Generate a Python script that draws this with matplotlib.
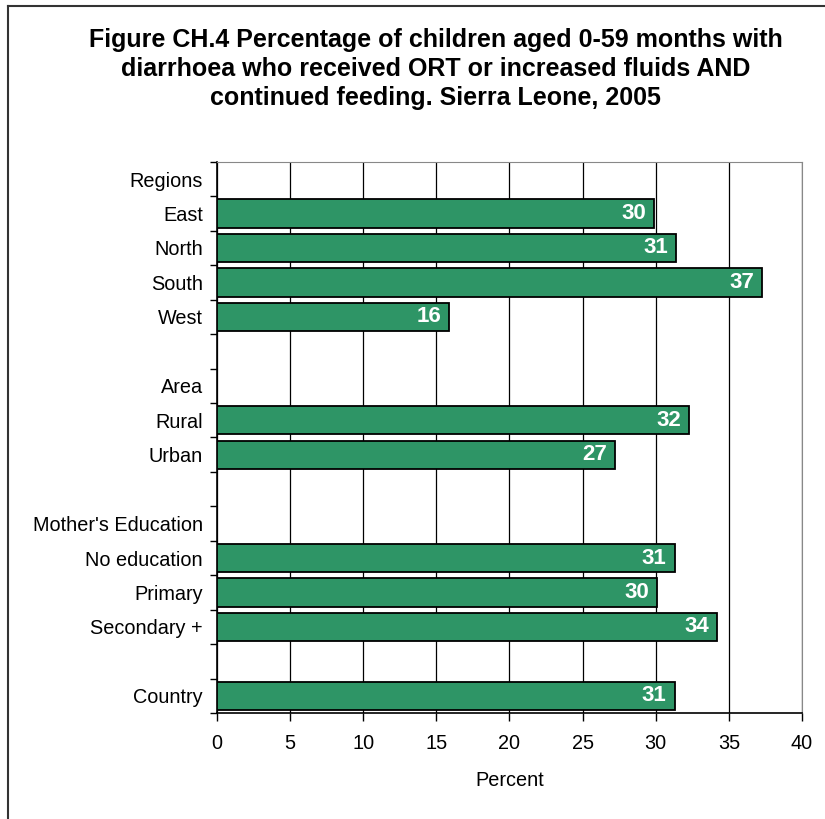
import matplotlib.pyplot as plt
import numpy as np

plt.rcParams['font.family'] = ['Liberation Sans', 'DejaVu Sans']

# rows from top to bottom; headers and spacer rows carry no bar
labels = ['Regions', 'East', 'North', 'South', 'West', '',
          'Area', 'Rural', 'Urban', '',
          "Mother's Education", 'No education', 'Primary', 'Secondary +', '',
          'Country']
values = [None, 29.9, 31.4, 37.3, 15.9, None,
          None, 32.3, 27.2, None,
          None, 31.3, 30.1, 34.2, None,
          31.3]

green = '#2e9566'

fig = plt.figure(figsize=(8.25, 8.19), dpi=100)
ax = fig.add_axes([0.263, 0.1294, 0.709, 0.673])

n = len(labels)
ypos = np.arange(n)

for y, v in zip(ypos, values):
    if v is None:
        continue
    ax.barh(y, v, height=0.82, color=green, edgecolor='black', linewidth=1.3, zorder=3)
    ax.text(v - 0.55, y, f'{v:.0f}', ha='right', va='center', color='white',
            fontsize=16, fontweight='bold', zorder=4)

ax.set_xlim(0, 40)
ax.set_ylim(n - 0.5, -0.5)
ax.set_xticks(np.arange(0, 41, 5))
ax.tick_params(axis='x', labelsize=14.3, length=6, width=1, pad=9)

# labels sit at row centres, tick marks at row boundaries
ax.set_yticks(ypos)
ax.set_yticklabels(labels, fontsize=14.3)
ax.tick_params(axis='y', which='major', length=0, pad=10)
ax.set_yticks(np.arange(n + 1) - 0.5, minor=True)
ax.tick_params(axis='y', which='minor', length=5, width=1)

ax.xaxis.grid(True, color='black', linewidth=0.9, zorder=0)
ax.set_axisbelow(True)
for side in ['top', 'right']:
    ax.spines[side].set_color('#888888')
ax.spines['left'].set_linewidth(1.2)
ax.spines['bottom'].set_linewidth(1.2)

ax.set_xlabel('Percent', fontsize=14.3, labelpad=13)

fig.text(0.528, 0.966,
         'Figure CH.4 Percentage of children aged 0-59 months with\n'
         'diarrhoea who received ORT or increased fluids AND\n'
         'continued feeding. Sierra Leone, 2005',
         ha='center', va='top', fontsize=18, fontweight='bold', linespacing=1.27)

# page frame
fig.add_artist(plt.Line2D([0.0097, 0.0097], [0, 0.9927], color='#333333', linewidth=1.5,
                          transform=fig.transFigure))
fig.add_artist(plt.Line2D([0.0097, 1.0], [0.9927, 0.9927], color='#333333', linewidth=1.5,
                          transform=fig.transFigure))

fig.savefig('out.png', dpi=100)
